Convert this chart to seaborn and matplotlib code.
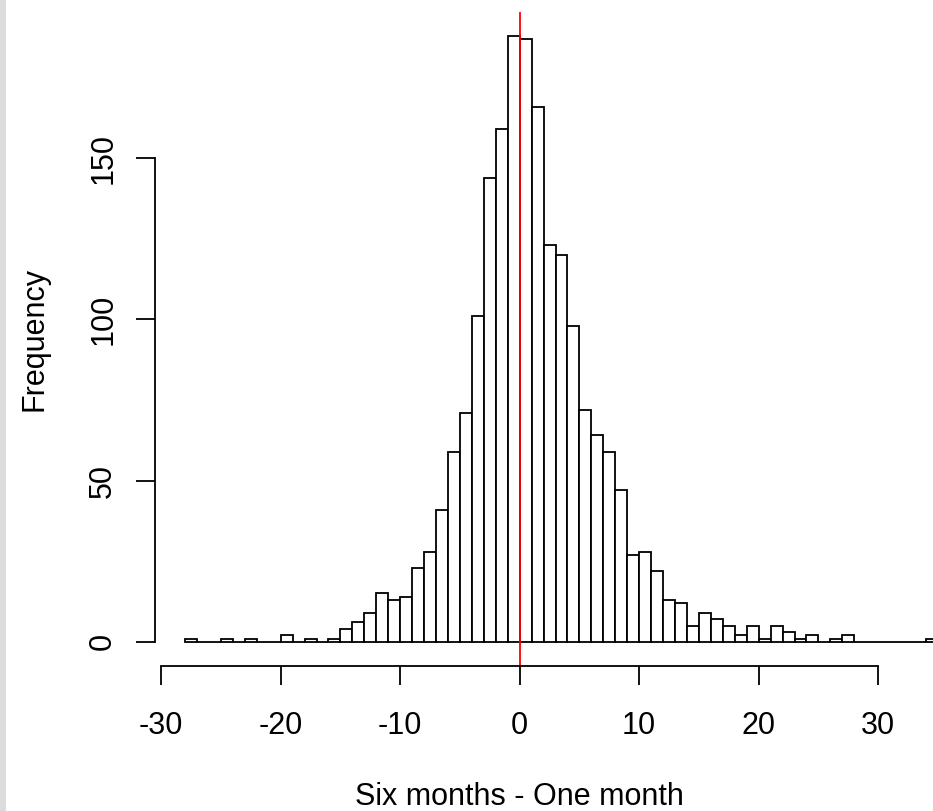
import matplotlib
matplotlib.use("Agg")
import matplotlib.pyplot as plt
import seaborn as sns
from matplotlib.patches import Rectangle

# Histogram breaks (unit bins) and counts
bin_edges = list(range(-28, 36))
counts = [1, 0, 0, 1, 0, 1, 0, 0, 2, 0,
          1, 0, 1, 4, 6, 9, 15, 13, 14, 23,
          28, 41, 59, 71, 101, 144, 159, 188, 187, 166,
          123, 120, 98, 72, 64, 59, 47, 27, 28, 22,
          13, 12, 5, 9, 7, 5, 2, 5, 1, 5,
          3, 1, 2, 0, 1, 2, 0, 0, 0, 0,
          0, 0, 1]
bin_mids = [e + 0.5 for e in bin_edges[:-1]]
x_ticks = [-30, -20, -10, 0, 10, 20, 30]
y_ticks = [0, 50, 100, 150]

sns.set_style("white")
plt.rcParams["font.family"] = ["Liberation Sans", "DejaVu Sans"]
plt.rcParams["axes.unicode_minus"] = False
plt.rcParams["text.color"] = "black"
plt.rcParams["axes.labelcolor"] = "black"
fs = 22

W, H = 933, 811
fig = plt.figure(figsize=(W / 100, H / 100), dpi=100)
# plot region in pixels: left 155, right 968 (off canvas), top 11.5, bottom 666
ax = fig.add_axes([155 / W, (H - 666) / H, 813 / W, 654.5 / H])
ax.patch.set_alpha(0)

sns.histplot(x=bin_mids, weights=counts, bins=bin_edges, ax=ax,
             color="white", edgecolor="black", linewidth=1.3, alpha=1)
ax.axvline(0, color="red", linewidth=1.3)

ax.set_xlim(-30.52, 37.52)
ax.set_ylim(-7.52, 195.52)

for side in ["top", "right"]:
    ax.spines[side].set_visible(False)
ax.spines["left"].set_bounds(0, 150)
ax.spines["bottom"].set_bounds(-30, 30)
for side in ["left", "bottom"]:
    ax.spines[side].set_linewidth(1.3)
    ax.spines[side].set_color("black")

ax.set_xticks(x_ticks)
ax.set_yticks(y_ticks)
ax.tick_params(axis="both", direction="out", length=13.5, width=1.3,
               color="black", labelsize=fs, labelcolor="black",
               bottom=True, left=True)
ax.tick_params(axis="x", pad=19)
ax.tick_params(axis="y", pad=13, labelrotation=90)
for lab in ax.get_yticklabels():
    lab.set_verticalalignment("center")

ax.set_xlabel("Six months - One month", fontsize=fs, va="center", color="black")
ax.xaxis.set_label_coords((519.5 - 155) / 813, (666 - 797) / 654.5)
ax.set_ylabel("Frequency", fontsize=fs, va="center", color="black")
ax.yaxis.set_label_coords((35 - 155) / 813, 0.5)
ax.grid(False)

# light grey strip along the left edge of the image
fig.patches.append(Rectangle((0, 0), 6 / W, 1, transform=fig.transFigure,
                             facecolor="#dcdcdc", edgecolor="none", zorder=-1))

fig.savefig("out.png", dpi=100)
